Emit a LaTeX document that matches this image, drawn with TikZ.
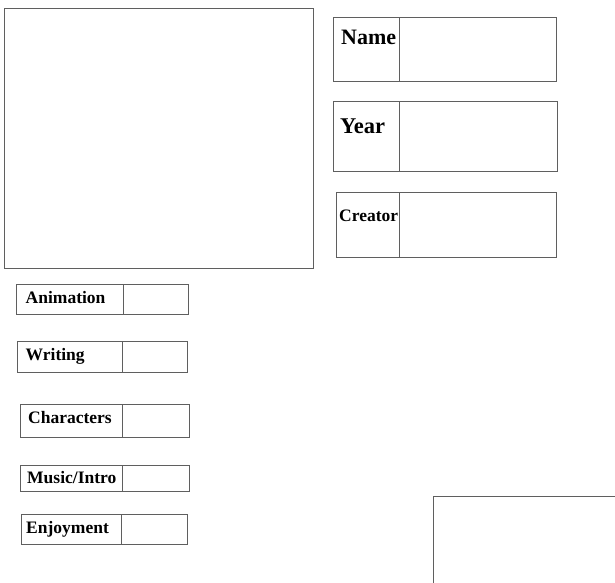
\documentclass[tikz,border=0pt]{standalone}
\usepackage{fontspec}
\setmainfont{Liberation Serif}
\definecolor{linegray}{RGB}{95,95,95}
\begin{document}
\begin{tikzpicture}[x=1pt,y=-1pt,
  frame/.style={draw=linegray, line width=1pt, inner sep=0pt, outer sep=0pt, anchor=north west, rectangle},
  lbl/.style={anchor=base west, inner sep=0pt, font=\bfseries\fontsize{17.5}{20}\selectfont},
  biglbl/.style={anchor=base west, inner sep=0pt, font=\bfseries\fontsize{22}{26}\selectfont},
  divider/.style={draw=linegray, line width=1pt}]
\useasboundingbox (0,0) rectangle (615,582);
% picture frame
\node[frame, minimum width=309pt, minimum height=260pt] (pic) at (4.5,8) {};
% top right info boxes
\node[frame, minimum width=223pt, minimum height=64pt] (namebox) at (333.5,17) {};
\draw[divider] (399.5,17) -- (399.5,81);
\node[biglbl] (namelbl) at (341,44) {Name};
\node[frame, minimum width=224pt, minimum height=70pt] (yearbox) at (333.5,101) {};
\draw[divider] (399.5,101) -- (399.5,171);
\node[biglbl, font=\bfseries\fontsize{22.5}{26}\selectfont] (yearlbl) at (340,133) {Year};
\node[frame, minimum width=220pt, minimum height=65pt] (creatorbox) at (336.5,192) {};
\draw[divider] (399.5,192) -- (399.5,257);
\node[lbl] (creatorlbl) at (339,221) {Creator};
% rating boxes
\node[frame, minimum width=172pt, minimum height=30pt] (anibox) at (16,284) {};
\draw[divider] (123,284) -- (123,314);
\node[lbl] (anilbl) at (25.5,303) {Animation};
\node[frame, minimum width=170pt, minimum height=31pt] (writbox) at (17,341) {};
\draw[divider] (122,341) -- (122,372);
\node[lbl] (writlbl) at (25.5,360) {Writing};
\node[frame, minimum width=169pt, minimum height=33pt] (charbox) at (20,404) {};
\draw[divider] (122,404) -- (122,437);
\node[lbl] (charlbl) at (28,423) {Characters};
\node[frame, minimum width=169pt, minimum height=26pt] (musbox) at (20,465) {};
\draw[divider] (122,465) -- (122,491);
\node[lbl] (muslbl) at (27,483.5) {Music/Intro};
\node[frame, minimum width=166pt, minimum height=30pt] (enjbox) at (21,514) {};
\draw[divider] (121.5,514) -- (121.5,544);
\node[lbl] (enjlbl) at (26,533) {Enjoyment};
% bottom right partial box
\coordinate (brbot) at (433,583);
\coordinate (brcorner) at (433,496);
\coordinate (brright) at (616,496);
\draw[divider] (brbot) -- (brcorner) -- (brright);
\end{tikzpicture}
\end{document}
